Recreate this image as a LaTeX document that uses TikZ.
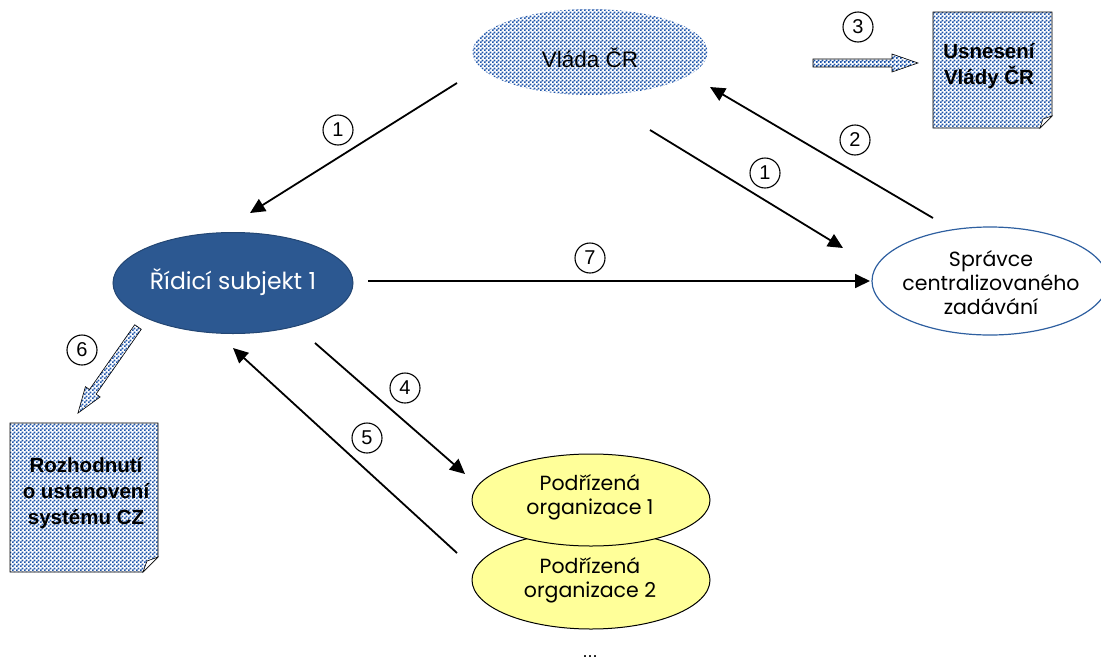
\documentclass[tikz,border=0pt]{standalone}
\usepackage{fontspec}
\setmainfont{Liberation Sans}
\newfontfamily\gothic{Poppins}
\usetikzlibrary{arrows.meta,shapes.geometric,patterns.meta}
\definecolor{patblue}{RGB}{30,85,170}
\definecolor{ridfill}{RGB}{44,88,145}
\definecolor{ridline}{RGB}{35,70,115}
\definecolor{sprline}{RGB}{46,95,160}
\definecolor{orgfill}{RGB}{255,255,153}
\pgfdeclarepattern{name=bluecheck, type=uncolored,
  bottom left={\pgfpoint{0pt}{0pt}}, top right={\pgfpoint{4pt}{4pt}},
  tile size={\pgfpoint{4pt}{4pt}},
  code={\pgfpathrectangle{\pgfpoint{0pt}{0pt}}{\pgfpoint{2.1pt}{2.1pt}}
        \pgfpathrectangle{\pgfpoint{2pt}{2pt}}{\pgfpoint{2.1pt}{2.1pt}}
        \pgfusepath{fill}}}
\tikzset{
  patfill/.style={pattern=bluecheck, pattern color=patblue},
  ell/.style={ellipse, inner sep=0pt},
  etext/.style={font=\gothic\fontsize{20.5}{24}\selectfont, align=center},
  dtext/.style={font=\bfseries\fontsize{20.5}{26}\selectfont, align=center},
  conn/.style={line width=1.8pt, -{Triangle[length=15pt,width=14pt]}},
  num/.style={circle, draw, line width=1.1pt, minimum size=30pt, inner sep=0pt, font=\fontsize{20}{20}\selectfont},
  blockarr/.style={patfill, draw=black, line width=0.6pt},
  docpage/.style={patfill, draw=black, line width=0.8pt},
}
\begin{document}
\begin{tikzpicture}[x=1pt,y=-1pt]
\useasboundingbox (0,0) rectangle (1101,667);

% ellipses
\node[ell, patfill, minimum width=235pt, minimum height=86pt] (vlada) at (590,52) {};
\node[font=\fontsize{22.5}{26}\selectfont] (vladaT) at (590,58) {Vláda ČR};

\node[ell, fill=ridfill, draw=ridline, line width=1pt, minimum width=240pt, minimum height=101pt] (rid) at (233,283) {};
\node[etext, font=\gothic\fontsize{23.5}{26}\selectfont, text=white] (ridT) at (233,282) {Řídicí subjekt 1};

\node[ell, draw=sprline, line width=1.2pt, minimum width=236pt, minimum height=108pt] (spr) at (990,281) {};
\node[etext] (sprT) at (991,283) {Správce\\centralizovaného\\zadávání};

\node[ell, fill=orgfill, draw=black, line width=1pt, minimum width=238pt, minimum height=98pt] (org2) at (591,580) {};
\node[etext] (org2T) at (590,580) {Podřízená\\organizace 2};
\node[ell, fill=orgfill, draw=black, line width=1pt, minimum width=238pt, minimum height=92pt] (org1) at (591,500) {};
\node[etext] (org1T) at (590,497) {Podřízená\\organizace 1};

% documents
\draw[docpage] (933,12) -- (1052,12) -- (1052,116) -- (1040,128) -- (933,128) -- cycle;
\draw[line width=0.6pt, fill=white] (1052,116) -- (1040,128) -- (1043,119) -- cycle;
\node[dtext] (usn) at (989,66) {Usnesení\\Vlády ČR};

\draw[docpage] (10,423) -- (158,423) -- (158,557) -- (143,572) -- (10,572) -- cycle;
\draw[line width=0.6pt, fill=white] (158,557) -- (143,572) -- (147,561) -- cycle;
\node[dtext] (roz) at (86,493) {Rozhodnutí\\o ustanovení\\systému CZ};

% connectors
\coordinate (a1s) at (457,83);
\coordinate (a1e) at (250,213);
\draw[conn] (a1s) -- (a1e);
\coordinate (b1s) at (650,130);
\coordinate (b1e) at (843,248);
\draw[conn] (b1s) -- (b1e);
\coordinate (c2s) at (933,218);
\coordinate (c2e) at (710,87);
\draw[conn] (c2s) -- (c2e);
\coordinate (d7s) at (368,281);
\coordinate (d7e) at (870,281);
\draw[conn] (d7s) -- (d7e);
\coordinate (e4s) at (315,343);
\coordinate (e4e) at (465,474);
\draw[conn] (e4s) -- (e4e);
\coordinate (f5s) at (457,553);
\coordinate (f5e) at (233,348);
\draw[conn] (f5s) -- (f5e);

% block arrows
\coordinate (g3) at (813,63);
\begin{scope}[shift={(g3)}]
\draw[blockarr] (0,-4) -- (79,-4) -- (79,-9) -- (105,0) -- (79,9) -- (79,4) -- (0,4) -- cycle;
\end{scope}
\coordinate (h6) at (138,327);
\begin{scope}[shift={(h6)}, rotate=-124.9]
\draw[blockarr] (0,-4) -- (79,-4) -- (79,-9) -- (105,0) -- (79,9) -- (79,4) -- (0,4) -- cycle;
\end{scope}

% numbers
\node[num] (n1a) at (338,130) {1};
\node[num] (n1b) at (765,173) {1};
\node[num] (n2) at (855,140) {2};
\node[num] (n3) at (858,27) {3};
\node[num] (n7) at (590,258) {7};
\node[num] (n4) at (405,388) {4};
\node[num] (n5) at (367,438) {5};
\node[num] (n6) at (82,350) {6};

\node[font=\fontsize{18}{18}\selectfont] (dots) at (590,657) {...};
\end{tikzpicture}
\end{document}
